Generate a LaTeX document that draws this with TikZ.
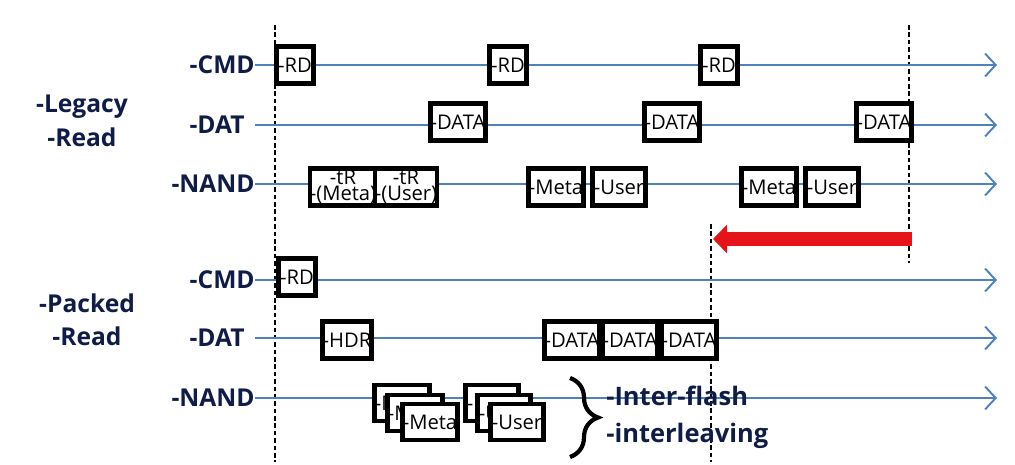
\documentclass[tikz,border=0pt]{standalone}
\usepackage{fontspec}
\setmainfont{Open Sans}
\usetikzlibrary{arrows.meta,decorations.pathreplacing}
\definecolor{laneblue}{RGB}{79,129,189}
\definecolor{labelnavy}{RGB}{16,28,72}
\definecolor{shiftred}{RGB}{228,20,24}

\begin{document}
\begin{tikzpicture}[x=0.02cm,y=-0.02cm,
  sig/.style={font=\fontsize{14}{19}\selectfont\bfseries,text=labelnavy,inner sep=0pt},
  lane/.style={draw=laneblue,line width=1.1pt,-{Straight Barb[length=6pt,width=13pt]}},
  guide/.style={draw=black,line width=0.7pt,dash pattern=on 2.6pt off 1.6pt},
  blk/.style={draw=black,line width=2.6pt,fill=white,inner sep=0pt,
              minimum height=0.74cm,align=center,font=\fontsize{11.5}{9}\selectfont},
  rdbox/.style={blk,minimum width=0.74cm},
  databox/.style={blk,minimum width=0.96cm},
  wbox/.style={blk,minimum width=1.06cm},
  gain/.style={draw=shiftred,line width=8pt,-{Triangle[length=8pt,width=16pt]}},
  brc/.style={decorate,decoration={brace,amplitude=0.56cm},line width=2.4pt}
]
\useasboundingbox (0,0) rectangle (1015,465);

% time marks
\coordinate (t0top) at (275,25);   \coordinate (t0bot) at (275,462);
\coordinate (t1top) at (909,25);   \coordinate (t1bot) at (909,263);
\coordinate (t2top) at (711,224);  \coordinate (t2bot) at (711,462);
\draw[guide] (t0top) -- (t0bot);
\draw[guide] (t1top) -- (t1bot);
\draw[guide] (t2top) -- (t2bot);

% legacy read
\node[sig,align=center] (legacy) at (82,121) {-Legacy\\-Read};
\node[sig,anchor=east] (cmdA) at (255,65) {-CMD};
\node[sig,anchor=east] (datA) at (245,125) {-DAT};
\node[sig,anchor=east] (nandA) at (255,184) {-NAND};
\coordinate (cmdA-end) at (997,65);
\coordinate (datA-end) at (997,125);
\coordinate (nandA-end) at (997,184);
\draw[lane] (cmdA.east) -- (cmdA-end);
\draw[lane] ([xshift=0.2cm]datA.east) -- (datA-end);
\draw[lane] (nandA.east) -- (nandA-end);

\node[rdbox] (rdA1) at (295,65) {-RD};
\node[rdbox] (rdA2) at (508,65) {-RD};
\node[rdbox] (rdA3) at (719,65) {-RD};
\node[databox] (dataA1) at (458,122) {-DATA};
\node[databox] (dataA2) at (672,122) {-DATA};
\node[databox] (dataA3) at (884,122) {-DATA};
\node[wbox] (trMeta) at (343,187) {-tR\\-(Meta)};
\node[wbox] (trUser) at (406,187) {-tR\\-(User)};
\node[wbox] (metaA1) at (556,187) {-Meta};
\node[wbox] (userA1) at (619,187) {-User};
\node[wbox] (metaA2) at (769,187) {-Meta};
\node[wbox] (userA2) at (832,187) {-User};

% gain
\coordinate (gainR) at (912,239);
\coordinate (gainL) at (713,239);
\draw[gain] (gainR) -- (gainL);

% packed read
\node[sig,align=center] (packed) at (87,320) {-Packed\\-Read};
\node[sig,anchor=east] (cmdB) at (255,280) {-CMD};
\node[sig,anchor=east] (datB) at (245,338) {-DAT};
\node[sig,anchor=east] (nandB) at (255,398) {-NAND};
\coordinate (cmdB-end) at (997,280);
\coordinate (datB-end) at (997,338);
\coordinate (nandB-end) at (997,398);
\draw[lane] (cmdB.east) -- (cmdB-end);
\draw[lane] ([xshift=0.2cm]datB.east) -- (datB-end);
\draw[lane] (nandB.east) -- (nandB-end);

\node[rdbox] (rdB) at (297,277) {-RD};
\node[databox] (hdr) at (347,340) {-HDR};
\node[databox] (dataB1) at (572,340) {-DATA};
\node[databox] (dataB2) at (630,340) {-DATA};
\node[databox] (dataB3) at (689,340) {-DATA};

\node[wbox,minimum height=0.72cm] (metaS1) at (402,403) {-Meta};
\node[wbox,minimum height=0.72cm] (metaS2) at (415,413) {-Meta};
\node[wbox,minimum height=0.72cm] (metaS3) at (430,422) {-Meta};
\node[wbox,minimum height=0.72cm] (userS1) at (492,403) {-User};
\node[wbox,minimum height=0.72cm] (userS2) at (504,413) {-User};
\node[wbox,minimum height=0.72cm] (userS3) at (517,422) {-User};

% interleaving
\coordinate (brcTop) at (570,378);
\coordinate (brcBot) at (570,457);
\draw[brc] (brcTop) -- (brcBot);
\node[sig,align=left,anchor=west,font=\fontsize{14.5}{21}\selectfont\bfseries]
  (ifl) at (606,417) {-Inter-flash\\-interleaving};
\end{tikzpicture}
\end{document}
